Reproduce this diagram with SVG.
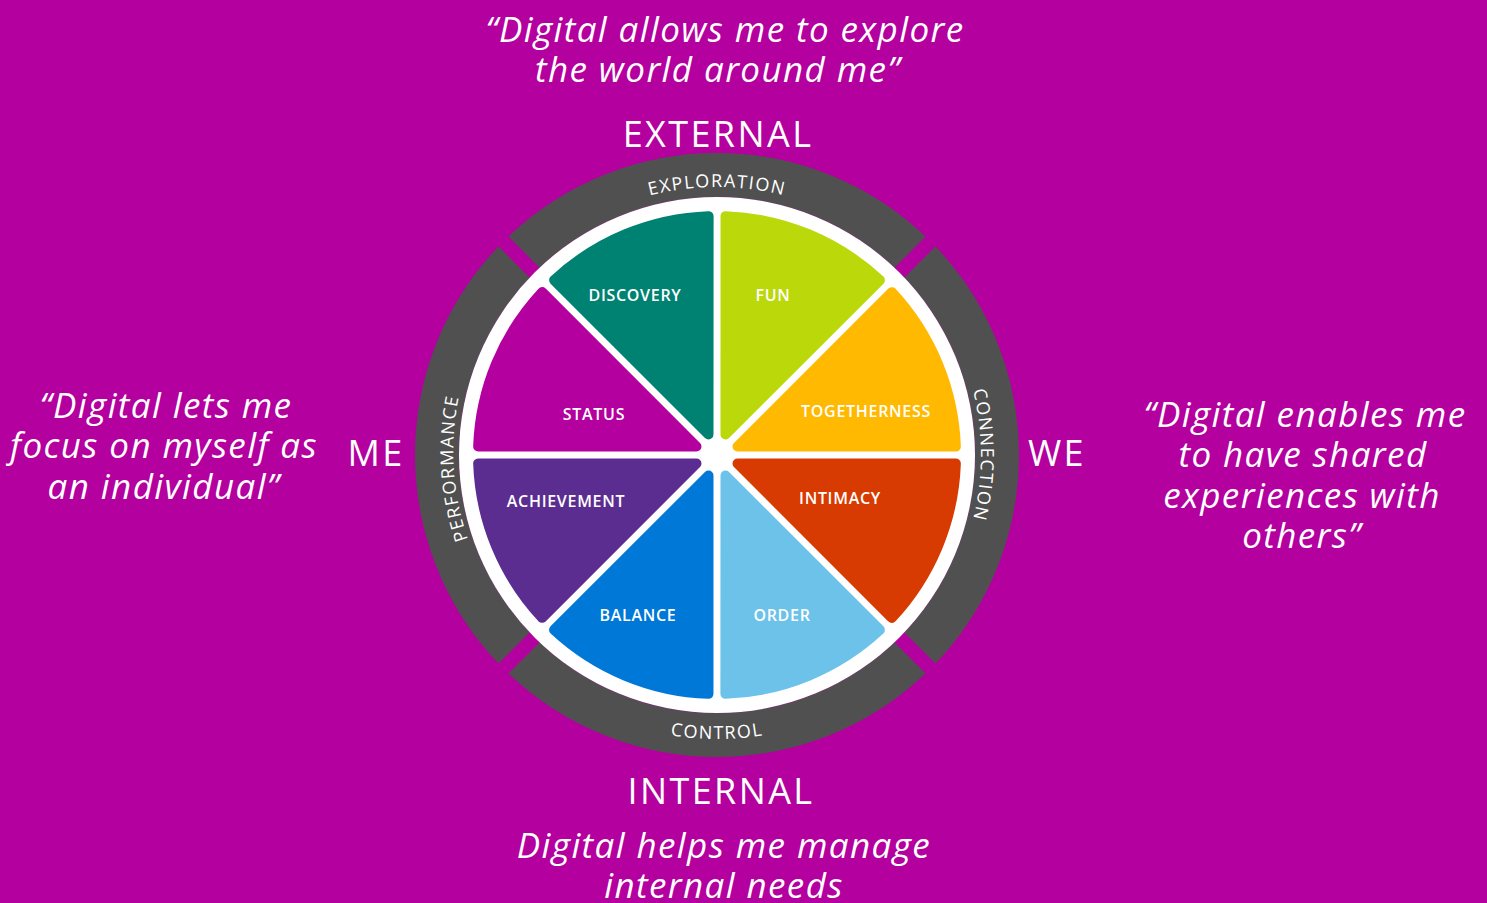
<svg xmlns="http://www.w3.org/2000/svg" width="1487" height="903" viewBox="0 0 1487 903">
<style>
.q{font-family:"Open Sans","Noto Sans",sans-serif;font-style:italic;font-size:35px;letter-spacing:1.4px;fill:#fff;text-anchor:middle}
.big{font-family:"Open Sans","Noto Sans",sans-serif;font-size:36px;letter-spacing:2.4px;fill:#fff;text-anchor:middle}
.seg{font-family:"Open Sans","Noto Sans",sans-serif;font-weight:600;font-size:16px;letter-spacing:0.7px;fill:#fff;text-anchor:middle}
.ring{font-family:"Open Sans","Noto Sans",sans-serif;font-size:18px;fill:#fff;letter-spacing:1.5px}
.w{stroke-width:10;stroke-linejoin:round}
</style>
<defs>
<path id="wedge" d="M 8.5,-20.51 L 8.51,-238.85 A 239 239 0 0 1 162.95,-174.83 Z"/>
<path id="pTop" d="M 484.9,321 A 268 268 0 0 1 949.1,321"/>
<path id="pRight" d="M 849,226.4 A 264 264 0 0 1 849,683.6"/>
<path id="pLeft" d="M 598,690.4 A 270 270 0 0 1 568.5,230"/>
<path id="pBot" d="M 471,597 A 284 284 0 0 0 963,597"/>
</defs>
<rect width="1487" height="903" fill="#B4009E"/>

<g id="ring">
<circle cx="717" cy="455" r="280" fill="none" stroke="#505050" stroke-width="44"/>
<line x1="380" y1="118" x2="1054" y2="792" stroke="#B4009E" stroke-width="14"/>
<line x1="1054" y1="118" x2="380" y2="792" stroke="#B4009E" stroke-width="14"/>
<circle cx="717" cy="455" r="258" fill="#fff"/>
</g>

<g id="wedges" transform="translate(717,455)">
<g id="fun"><use href="#wedge" class="w" fill="#BAD80A" stroke="#BAD80A"/></g>
<g id="togetherness"><use href="#wedge" class="w" fill="#FFB900" stroke="#FFB900" transform="rotate(45)"/></g>
<g id="intimacy"><use href="#wedge" class="w" fill="#D83B01" stroke="#D83B01" transform="rotate(90)"/></g>
<g id="order"><use href="#wedge" class="w" fill="#6DC2E9" stroke="#6DC2E9" transform="rotate(135)"/></g>
<g id="balance"><use href="#wedge" class="w" fill="#0078D7" stroke="#0078D7" transform="rotate(180)"/></g>
<g id="achievement"><use href="#wedge" class="w" fill="#5C2D91" stroke="#5C2D91" transform="rotate(225)"/></g>
<g id="status"><use href="#wedge" class="w" fill="#B4009E" stroke="#B4009E" transform="rotate(270)"/></g>
<g id="discovery"><use href="#wedge" class="w" fill="#008272" stroke="#008272" transform="rotate(315)"/></g>
</g>

<g id="wedge-labels">
<text class="seg" x="635" y="301">DISCOVERY</text>
<text class="seg" x="773" y="301">FUN</text>
<text class="seg" x="594" y="420">STATUS</text>
<text class="seg" x="866" y="417">TOGETHERNESS</text>
<text class="seg" x="566" y="507">ACHIEVEMENT</text>
<text class="seg" x="840" y="504">INTIMACY</text>
<text class="seg" x="638" y="621">BALANCE</text>
<text class="seg" x="782" y="621">ORDER</text>
</g>

<g id="ring-labels">
<text class="ring"><textPath href="#pTop" startOffset="50%" text-anchor="middle">EXPLORATION</textPath></text>
<text class="ring"><textPath href="#pRight" startOffset="50%" text-anchor="middle">CONNECTION</textPath></text>
<text class="ring"><textPath href="#pLeft" startOffset="50%" text-anchor="middle">PERFORMANCE</textPath></text>
<text class="ring"><textPath href="#pBot" startOffset="50%" text-anchor="middle">CONTROL</textPath></text>
</g>

<g id="axis-labels">
<text class="big" x="718" y="147">EXTERNAL</text>
<text class="big" x="721" y="804">INTERNAL</text>
<text class="big" x="376" y="466">ME</text>
<text class="big" x="1057" y="466">WE</text>
</g>

<g id="quotes">
<text class="q" x="725" y="42">“Digital allows me to explore</text>
<text class="q" x="718" y="82">the world around me”</text>
<text class="q" x="166" y="418">“Digital lets me</text>
<text class="q" x="164" y="458">focus on myself as</text>
<text class="q" x="164" y="499">an individual”</text>
<text class="q" x="1305" y="427">“Digital enables me</text>
<text class="q" x="1303" y="467">to have shared</text>
<text class="q" x="1302" y="508">experiences with</text>
<text class="q" x="1302" y="548">others”</text>
<text class="q" x="724" y="858">Digital helps me manage</text>
<text class="q" x="724" y="898">internal needs</text>
</g>
</svg>
